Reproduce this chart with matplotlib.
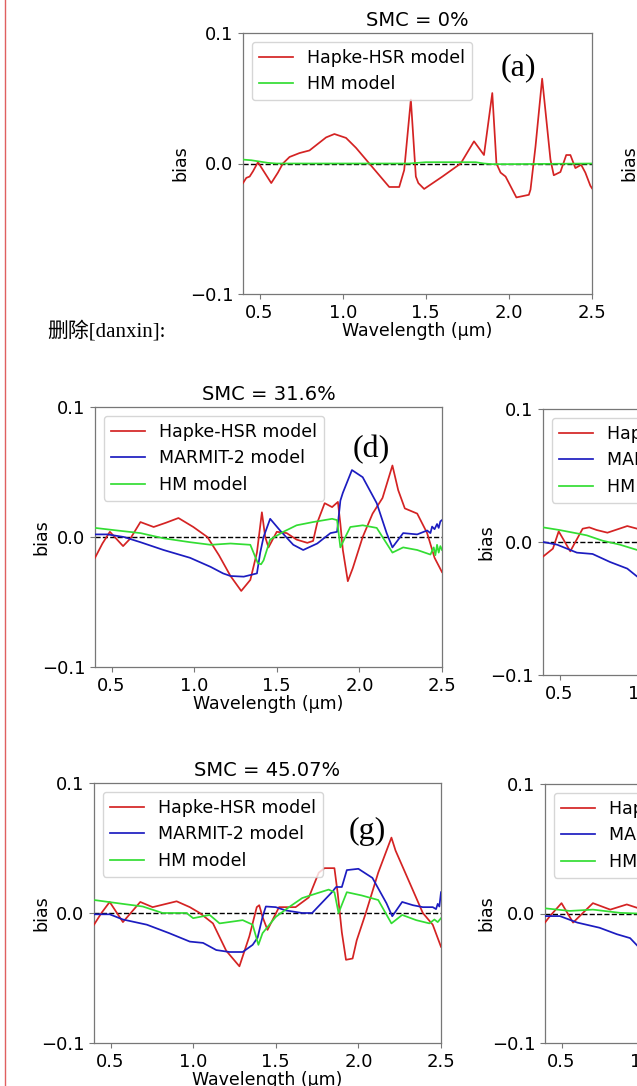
import matplotlib
matplotlib.use("Agg")
import matplotlib.pyplot as plt

W, H = 637, 1086

# ---- data (wavelength in um, bias) ----
a_red_wl = [0.40, 0.42, 0.44, 0.46, 0.49, 0.53, 0.57, 0.61, 0.64, 0.68, 0.74, 0.80, 0.84, 0.90, 0.95, 1.02,
            1.08, 1.16, 1.22, 1.28, 1.34, 1.37, 1.41, 1.44, 1.455, 1.49, 1.60, 1.71, 1.79, 1.85, 1.90, 1.925,
            1.95, 1.98, 2.045, 2.12, 2.13, 2.16, 2.20, 2.25, 2.27, 2.31, 2.345, 2.37, 2.40, 2.435, 2.46, 2.49, 2.50]
a_red = [-0.015, -0.011, -0.010, -0.006, 0.001, -0.007, -0.015, -0.007, 0.000, 0.005, 0.008, 0.010, 0.014, 0.020,
         0.0226, 0.0196, 0.012, 0.000, -0.009, -0.018, -0.018, -0.005, 0.049, -0.010, -0.015, -0.0195, -0.010,
         0.000, 0.017, 0.0065, 0.054, 0.000, -0.007, -0.010, -0.026, -0.024, -0.020, 0.013, 0.065, 0.003, -0.009,
         -0.0065, 0.0065, 0.0065, -0.0035, -0.001, -0.007, -0.017, -0.019]
a_green_wl = [0.40, 0.45, 0.50, 0.55, 0.60, 1.0, 1.4, 1.5, 1.8, 1.85, 1.9, 2.0, 2.5]
a_green = [0.003, 0.0025, 0.0015, 0.0005, 0.0, 0.0, 0.0, 0.001, 0.001, 0.0, -0.0005, -0.0005, 0.0]

d_red_wl = [0.40, 0.445, 0.49, 0.57, 0.615, 0.675, 0.755, 0.83, 0.905, 0.995, 1.08, 1.15, 1.22, 1.285, 1.34,
            1.38, 1.41, 1.43, 1.45, 1.50, 1.56, 1.62, 1.685, 1.72, 1.745, 1.79, 1.835, 1.87, 1.885, 1.90, 1.915,
            1.93, 1.96, 2.02, 2.08, 2.14, 2.20, 2.235, 2.275, 2.35, 2.41, 2.455, 2.50]
d_red = [-0.016, -0.005, 0.004, -0.007, -0.001, 0.0115, 0.0077, 0.011, 0.0146, 0.0077, 0.000, -0.014, -0.030,
         -0.0415, -0.033, -0.012, 0.019, 0.000, -0.008, 0.004, 0.003, -0.002, -0.0045, -0.003, 0.011, 0.026,
         0.023, 0.027, 0.010, -0.010, -0.022, -0.034, -0.024, 0.000, 0.018, 0.030, 0.055, 0.036, 0.022, 0.018,
         0.003, -0.016, -0.027]
d_blue_wl = [0.40, 0.475, 0.575, 0.675, 0.815, 0.975, 1.10, 1.175, 1.22, 1.30, 1.38, 1.40, 1.42, 1.46, 1.52,
             1.60, 1.66, 1.745, 1.825, 1.865, 1.885, 1.90, 1.955, 2.02, 2.105, 2.165, 2.20, 2.265, 2.35, 2.41,
             2.43, 2.44, 2.455, 2.47, 2.48, 2.49, 2.50]
d_blue = [0.002, 0.002, 0.000, -0.004, -0.010, -0.016, -0.023, -0.028, -0.030, -0.0305, -0.028, -0.012, 0.000,
          0.014, 0.005, -0.006, -0.010, -0.005, 0.003, 0.004, 0.028, 0.034, 0.0515, 0.046, 0.026, 0.003, -0.008,
          0.003, 0.002, 0.005, 0.003, 0.008, 0.006, 0.010, 0.007, 0.012, 0.013]
d_green_wl = [0.40, 0.535, 0.675, 0.815, 0.975, 1.10, 1.22, 1.34, 1.385, 1.405, 1.42, 1.46, 1.54, 1.62, 1.72,
              1.835, 1.865, 1.885, 1.915, 1.945, 2.02, 2.105, 2.165, 2.20, 2.265, 2.35, 2.43, 2.45, 2.46, 2.47,
              2.48, 2.49, 2.50]
d_green = [0.007, 0.005, 0.003, -0.001, -0.004, -0.006, -0.005, -0.006, -0.020, -0.021, -0.018, -0.002, 0.004,
           0.009, 0.0115, 0.014, 0.013, -0.008, 0.000, 0.0077, 0.009, 0.007, -0.005, -0.012, -0.008, -0.010,
           -0.0135, -0.008, -0.014, -0.006, -0.012, -0.007, -0.010]

e_red_wl = [0.40, 0.46, 0.495, 0.565, 0.64, 0.68, 0.725, 0.79, 0.91, 0.97, 1.0]
e_red = [-0.011, -0.005, 0.008, -0.007, 0.010, 0.011, 0.009, 0.007, 0.012, 0.010, 0.008]
e_blue_wl = [0.40, 0.485, 0.605, 0.70, 0.805, 0.91, 0.97, 1.0]
e_blue = [0.000, -0.002, -0.008, -0.009, -0.015, -0.020, -0.026, -0.028]
e_green_wl = [0.40, 0.50, 0.605, 0.665, 0.76, 0.865, 0.97, 1.0]
e_green = [0.011, 0.009, 0.0065, 0.005, 0.001, -0.002, -0.006, -0.007]

g_red_wl = [0.40, 0.445, 0.495, 0.575, 0.68, 0.755, 0.90, 0.98, 1.04, 1.12, 1.20, 1.28, 1.34, 1.385, 1.40,
            1.42, 1.45, 1.52, 1.62, 1.70, 1.76, 1.795, 1.855, 1.875, 1.90, 1.925, 1.965, 1.99, 2.045, 2.12,
            2.20, 2.225, 2.33, 2.39, 2.45, 2.50]
g_red = [-0.009, 0.000, 0.0085, -0.007, 0.0085, 0.0045, 0.009, 0.0045, 0.000, -0.008, -0.029, -0.041, -0.018,
         0.0045, 0.006, -0.003, -0.013, 0.0045, 0.0045, 0.012, 0.031, 0.0345, 0.0345, 0.015, -0.015, -0.036,
         -0.035, -0.021, 0.000, 0.031, 0.058, 0.048, 0.0175, 0.000, -0.009, -0.026]
g_blue_wl = [0.40, 0.495, 0.575, 0.72, 0.855, 0.98, 1.06, 1.14, 1.22, 1.30, 1.36, 1.39, 1.42, 1.44, 1.50,
             1.56, 1.66, 1.72, 1.78, 1.84, 1.865, 1.90, 1.93, 2.00, 2.085, 2.17, 2.205, 2.265, 2.33, 2.39,
             2.45, 2.47, 2.48, 2.49, 2.50]
g_blue = [-0.001, -0.001, -0.005, -0.009, -0.0155, -0.022, -0.023, -0.0285, -0.030, -0.030, -0.0245, -0.019,
          -0.003, 0.005, 0.0045, 0.002, 0.000, 0.000, 0.008, 0.016, 0.020, 0.020, 0.033, 0.034, 0.027, 0.0075,
          -0.0025, 0.0085, 0.006, 0.0045, 0.0045, 0.003, 0.007, 0.005, 0.016]
g_green_wl = [0.40, 0.575, 0.695, 0.815, 0.96, 1.00, 1.10, 1.16, 1.30, 1.36, 1.395, 1.42, 1.50, 1.58, 1.66,
              1.745, 1.82, 1.855, 1.88, 1.93, 2.02, 2.12, 2.20, 2.265, 2.35, 2.43, 2.46, 2.48, 2.50]
g_green = [0.010, 0.007, 0.005, 0.000, 0.000, -0.004, -0.0015, -0.008, -0.0055, -0.009, -0.0245, -0.0155,
           -0.003, 0.0045, 0.0115, 0.015, 0.018, 0.016, 0.000, 0.016, 0.0135, 0.010, -0.008, -0.0015, -0.0055,
           -0.008, -0.005, -0.007, -0.004]

h_red_wl = [0.40, 0.43, 0.50, 0.57, 0.69, 0.795, 0.895, 0.955, 1.0]
h_red = [-0.007, -0.002, 0.008, -0.007, 0.008, 0.003, 0.007, 0.0045, 0.003]
h_blue_wl = [0.40, 0.49, 0.595, 0.73, 0.835, 0.915, 0.96, 1.0]
h_blue = [-0.002, -0.002, -0.007, -0.011, -0.016, -0.019, -0.025, -0.027]
h_green_wl = [0.40, 0.55, 0.69, 0.855, 0.96, 1.0]
h_green = [0.004, 0.002, 0.003, 0.0005, 0.0, 0.0]

xticks = [0.5, 1.0, 1.5, 2.0, 2.5]
yticks = [-0.1, 0.0, 0.1]

RED = '#d42323'
BLUE = '#1c1cc0'
GREEN = '#33dd33'
FS = 12.5
TICK_FS = 13
TITLE_FS = 14

fig = plt.figure(figsize=(W / 100, H / 100), dpi=100)
fig.patch.set_facecolor('white')


def make_ax(l, t, r, b, ylab_x):
    ax = fig.add_axes([l / W, 1 - b / H, (r - l) / W, (b - t) / H])
    ax.set_xlim(0.4, 2.5)
    ax.set_ylim(-0.1, 0.1)
    ax.set_xticks(xticks)
    ax.set_yticks(yticks)
    ax.tick_params(labelsize=TICK_FS, length=3.5, color='#777777')
    for s in ax.spines.values():
        s.set_color('#777777')
        s.set_linewidth(0.9)
    ax.set_ylabel('bias', fontsize=FS)
    # rotated label is anchored at its bottom edge, so shift by half its height
    ax.yaxis.set_label_coords((ylab_x + 8 - l) / (r - l), 0.5)
    ax.axhline(0, color='k', ls='--', lw=1.0, zorder=1)
    return ax


def draw(ax, series, title=None, label=None, lx=0.79, ly=0.84, xlabel=True):
    for wl, v, c, name in series:
        ax.plot(wl, v, color=c, lw=1.25, label=name, zorder=3)
    ax.legend(loc='upper left', fontsize=FS, framealpha=0.8)
    if title:
        ax.set_title(title, fontsize=TITLE_FS, pad=5)
    if xlabel:
        ax.set_xlabel('Wavelength (µm)', fontsize=FS, labelpad=0)
    if label:
        ax.text(lx, ly, label, transform=ax.transAxes, ha='center', va='center',
                fontsize=23, family='Liberation Serif')


ax_a = make_ax(243, 33, 592, 294, 181)
draw(ax_a, [(a_red_wl, a_red, RED, 'Hapke-HSR model'),
            (a_green_wl, a_green, GREEN, 'HM model')],
     title='SMC = 0%', label='(a)', lx=0.79, ly=0.866)

# neighbour panel, only its y label shows at the right edge
ax_b = make_ax(690, 33, 1039, 294, 630)

ax_d = make_ax(95, 407, 442, 667, 42)
draw(ax_d, [(d_red_wl, d_red, RED, 'Hapke-HSR model'),
            (d_blue_wl, d_blue, BLUE, 'MARMIT-2 model'),
            (d_green_wl, d_green, GREEN, 'HM model')],
     title='SMC = 31.6%', label='(d)', lx=0.795, ly=0.835)

ax_e = make_ax(543, 409, 890, 675, 487)
draw(ax_e, [(e_red_wl, e_red, RED, 'Hapke-HSR model'),
            (e_blue_wl, e_blue, BLUE, 'MARMIT-2 model'),
            (e_green_wl, e_green, GREEN, 'HM model')])

ax_g = make_ax(94, 783, 441, 1043, 42)
draw(ax_g, [(g_red_wl, g_red, RED, 'Hapke-HSR model'),
            (g_blue_wl, g_blue, BLUE, 'MARMIT-2 model'),
            (g_green_wl, g_green, GREEN, 'HM model')],
     title='SMC = 45.07%', label='(g)', lx=0.787, ly=0.815)

ax_h = make_ax(545, 784, 892, 1043, 487)
draw(ax_h, [(h_red_wl, h_red, RED, 'Hapke-HSR model'),
            (h_blue_wl, h_blue, BLUE, 'MARMIT-2 model'),
            (h_green_wl, h_green, GREEN, 'HM model')])

# document margin mark and comment text
fig.add_artist(plt.Line2D([5 / W, 5 / W], [0, 1], color='#e06060', lw=1.0))
fig.text(47 / W, 1 - 331 / H, '删除[danxin]:', fontsize=15, va='center', ha='left',
         family=['Liberation Serif', 'Noto Sans CJK SC'])

fig.savefig('out.png', dpi=100, facecolor='white')
